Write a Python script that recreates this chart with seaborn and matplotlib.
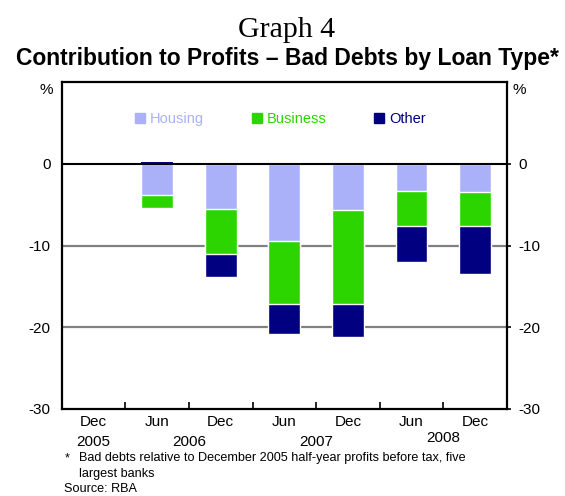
import matplotlib
matplotlib.use("Agg")
import matplotlib.pyplot as plt
import matplotlib.transforms as mtransforms
from matplotlib.lines import Line2D
import numpy as np
import pandas as pd
import seaborn as sns

# Half-year periods and contributions (percentage points of Dec 2005 profits)
periods = ["Dec 2005", "Jun 2006", "Dec 2006", "Jun 2007", "Dec 2007", "Jun 2008", "Dec 2008"]
months = ["Dec", "Jun", "Dec", "Jun", "Dec", "Jun", "Dec"]
years = ["2005", "2006", "2007", "2008"]
housing = [0.0, -3.8, -5.5, -9.4, -5.7, -3.3, -3.5]
business = [0.0, -1.6, -5.6, -7.7, -11.4, -4.35, -4.15]
other = [0.0, 0.25, -2.8, -3.7, -4.1, -4.35, -5.8]
yticks = [0, -10, -20, -30]
series_names = ["Housing", "Business", "Other"]

# Year labels sit under the first period of each year (category units)
year_label_x = [0, 1.5, 3.5, 5.5]

c_housing = "#aab1f8"
c_business = "#2cd400"
c_other = "#000080"

sns.set_theme(style="white")
plt.rcParams["font.family"] = ["Liberation Sans", "DejaVu Sans"]
plt.rcParams["text.color"] = "black"
plt.rcParams["axes.labelcolor"] = "black"

df = pd.DataFrame({"period": periods, "housing": housing,
                   "business": business, "other": other})
df["lvl1"] = df["housing"]
df["lvl2"] = df["housing"] + df["business"]
df["lvl3"] = df["lvl2"] + df["other"].clip(upper=0)
df["other_pos"] = df["other"].clip(lower=0)

fig = plt.figure(figsize=(5.65, 4.96), dpi=100)
ax = fig.add_axes([61.7 / 565, 1 - 409 / 496, (507 - 61.7) / 565, (409 - 82) / 496])

# Horizontal reference lines behind the bars
for yv in [-10, -20]:
    ax.axhline(yv, color="#808080", lw=1.6, zorder=0)

common = dict(order=periods, width=0.5, saturation=1, ax=ax,
              edgecolor="white", linewidth=1.0, zorder=2)
sns.barplot(data=df, x="period", y="lvl3", color=c_other, **common)
sns.barplot(data=df, x="period", y="lvl2", color=c_business, **common)
sns.barplot(data=df, x="period", y="lvl1", color=c_housing, **common)
sns.barplot(data=df, x="period", y="other_pos", order=periods, width=0.5,
            saturation=1, ax=ax, color=c_other, linewidth=0, zorder=2)

ax.axhline(0, color="black", lw=1.5, zorder=4)

ax.set_xlim(-0.5, 6.5)
ax.set_ylim(-30, 10)
ax.set_xlabel("")
ax.set_ylabel("")

# Frame
for sp in ax.spines.values():
    sp.set_visible(True)
    sp.set_color("black")
    sp.set_linewidth(1.6)

# Y axis: labels on both sides
ax.set_yticks(yticks)
ax.set_yticklabels([str(v) for v in yticks])
ax.tick_params(axis="y", left=False, right=True, labelleft=True, labelright=True,
               length=3, width=1.2, direction="out", colors="black",
               labelsize=11, pad=5)
ytr = mtransforms.blended_transform_factory(ax.transAxes, fig.transFigure)
ax.text(-0.02, 1 - 90 / 496, "%", transform=ytr, ha="right", va="center", fontsize=11)
ax.text(1.013, 1 - 90 / 496, "%", transform=ytr, ha="left", va="center", fontsize=11)

# X axis: inward ticks between periods, labels under each bar
n = len(periods)
ax.set_xticks(np.arange(n - 1) + 0.5)
ax.set_xticklabels([])
ax.tick_params(axis="x", bottom=True, direction="in", length=5, width=1.2, colors="black")
tx = mtransforms.blended_transform_factory(ax.transData, fig.transFigure)
for i, m in enumerate(months):
    ax.text(i, 1 - 421.5 / 496, m, transform=tx, ha="center", va="center", fontsize=11)
for xv, yr in zip(year_label_x, years):
    yy = 438.5 if yr == "2008" else 441.5
    ax.text(xv, 1 - yy / 496, yr, transform=tx, ha="center", va="center", fontsize=11)

# Legend
handles = [Line2D([], [], marker="s", ls="", color=c, markersize=6.5)
           for c in [c_housing, c_business, c_other]]
leg = ax.legend(handles, series_names, ncol=3, loc="center", bbox_to_anchor=(0.492, 0.887),
                frameon=False, fontsize=10.5, handlelength=0.6, handletextpad=0.4,
                columnspacing=3.3)
for t, c in zip(leg.get_texts(), [c_housing, c_business, c_other]):
    t.set_color(c)

# Titles
fig.text(287 / 565, 1 - 37 / 496, "Graph 4", ha="center", va="baseline",
         fontsize=21.5, family=["Liberation Serif", "DejaVu Serif"])
fig.text(287 / 565, 1 - 65 / 496, "Contribution to Profits \u2013 Bad Debts by Loan Type*",
         ha="center", va="baseline", fontsize=16.5, fontweight="bold")

# Notes
fig.text(65 / 565, 1 - 461.5 / 496, "*", ha="left", va="baseline", fontsize=9.1)
fig.text(79 / 565, 1 - 461.5 / 496,
         "Bad debts relative to December 2005 half-year profits before tax, five",
         ha="left", va="baseline", fontsize=9.1)
fig.text(79 / 565, 1 - 476.5 / 496, "largest banks", ha="left", va="baseline", fontsize=9.1)
fig.text(64 / 565, 1 - 492 / 496, "Source: RBA", ha="left", va="baseline", fontsize=9.1)

fig.savefig("out.png", dpi=100)
